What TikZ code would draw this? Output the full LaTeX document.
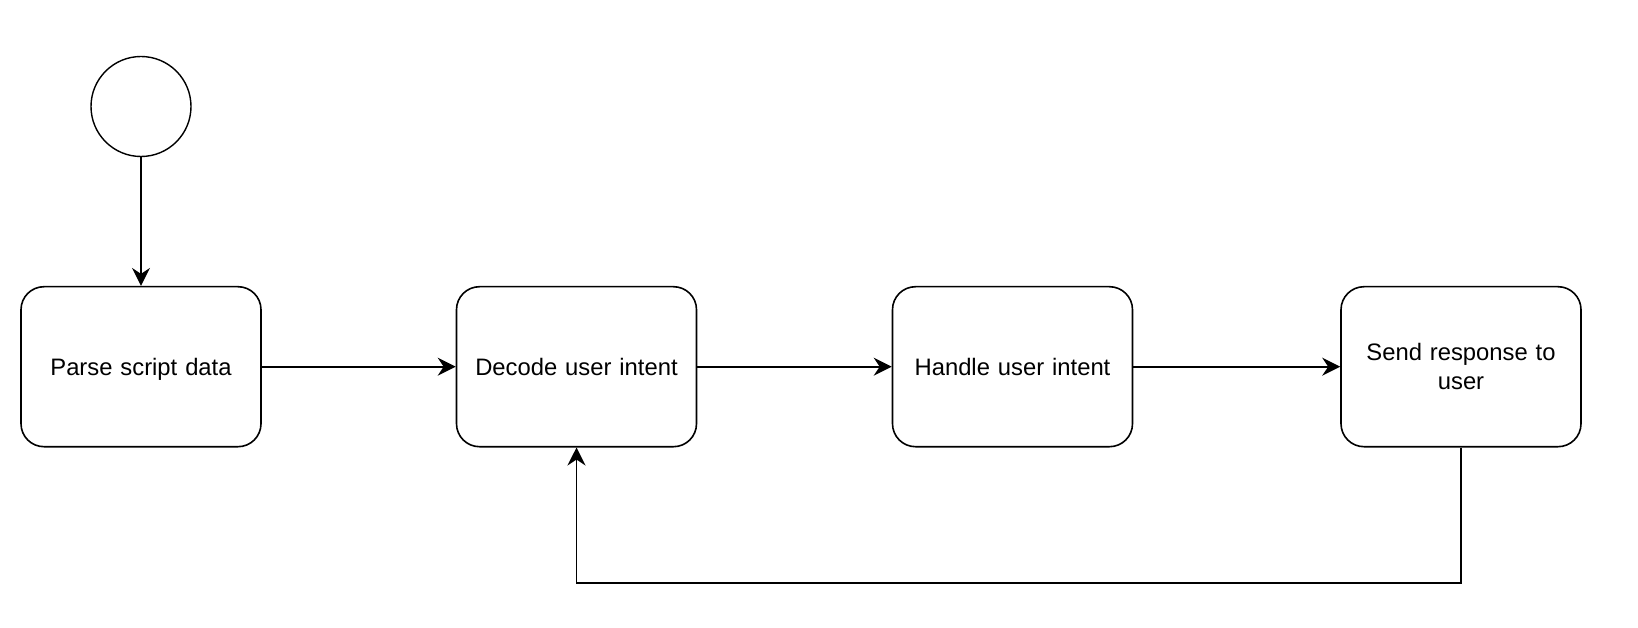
\documentclass[tikz,border=0pt]{standalone}
\usepackage{fontspec}
\setmainfont{Liberation Sans}
\usetikzlibrary{arrows.meta}
\begin{document}
\begin{tikzpicture}[x=1pt,y=-1pt,
  stepbox/.style={draw, line width=1.6pt, rounded corners=23pt, minimum width=240pt, minimum height=160pt, inner sep=0pt, align=center, text width=230pt, font=\fontsize{23.8}{28.5}\selectfont},
  oneline/.style={text height=23pt, text depth=5pt},
  startnode/.style={draw, circle, line width=1.4pt, minimum size=100pt, inner sep=0pt},
  flow/.style={line width=1.6pt, -{Stealth[length=18pt,width=18pt,inset=6pt]}}]
\useasboundingbox (0,0) rectangle (1638,628);
\node[startnode] (start) at (141,106.5) {};
\node[stepbox,oneline] (parse) at (141,366.7) {Parse script data};
\node[stepbox,oneline] (decode) at (576.5,366.7) {Decode user intent};
\node[stepbox,oneline] (handle) at (1012.5,366.7) {Handle user intent};
\node[stepbox] (send) at (1461,366.7) {Send response to\\user};
\coordinate (c1) at (1461,582.7);
\coordinate (c2) at (576.5,582.7);
\draw[flow] (start) -- (parse);
\draw[flow] (parse) -- (decode);
\draw[flow] (decode) -- (handle);
\draw[flow] (handle) -- (send);
\draw[flow] (send.south) -- (c1) -- (c2) -- (decode.south);
\end{tikzpicture}
\end{document}
